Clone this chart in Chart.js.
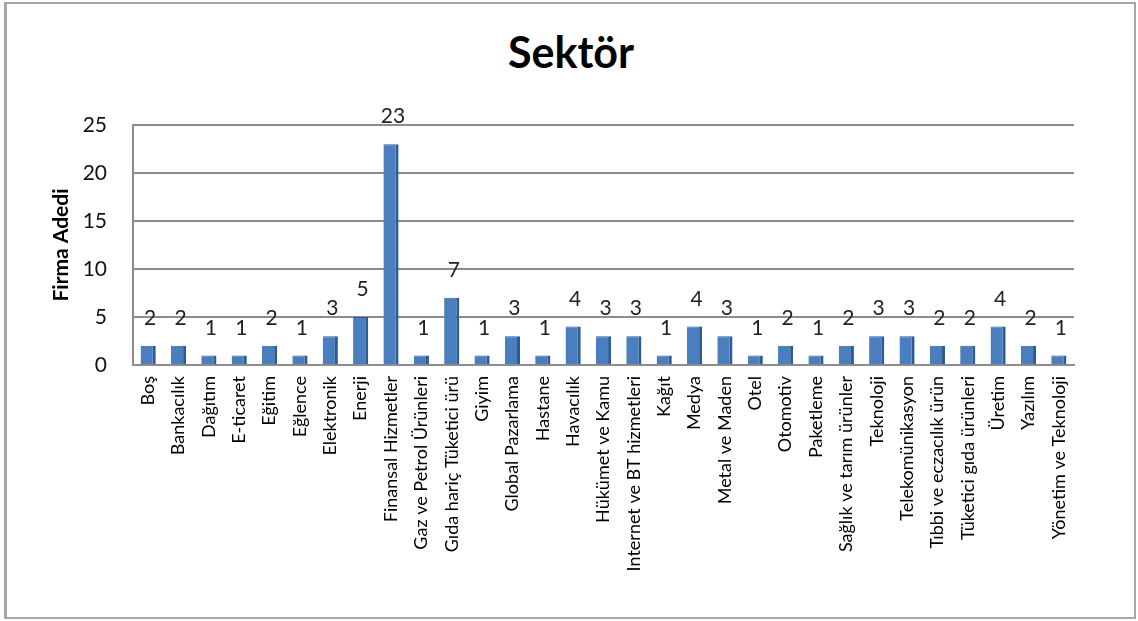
<!DOCTYPE html>
<html>
<head>
<meta charset="utf-8">
<script src="https://cdn.jsdelivr.net/npm/chart.js@4/dist/chart.umd.min.js"></script>
<style>
  body { margin: 0; background: #fff; }
  #frame {
    position: absolute; left: 4px; top: 2px; width: 1127px; height: 613px;
    border: 2px solid #a6a6a6; border-left-width: 3px;
  }
  #title {
    position: absolute; left: 0; top: 26px; width: 1142px; text-align: center;
    font: bold 43px Lato, "Liberation Sans", sans-serif; line-height: 52px; color: #000;
  }
  #myChart { position: absolute; left: 0; top: 0; }
</style>
</head>
<body>
<div id="frame"></div>
<div id="title">Sektör</div>
<canvas id="myChart" width="1138" height="621"></canvas>
<script>
// chart data
var sectors = ['Boş', 'Bankacılık', 'Dağıtım', 'E-ticaret', 'Eğitim', 'Eğlence', 'Elektronik', 'Enerji',
  'Finansal Hizmetler', 'Gaz ve Petrol Ürünleri', 'Gıda hariç Tüketici ürü', 'Giyim', 'Global Pazarlama',
  'Hastane', 'Havacılık', 'Hükümet ve Kamu', 'Internet ve BT hizmetleri', 'Kağıt', 'Medya', 'Metal ve Maden',
  'Otel', 'Otomotiv', 'Paketleme', 'Sağlık ve tarım ürünler', 'Teknoloji', 'Telekomünikasyon',
  'Tıbbi ve eczacılık ürün', 'Tüketici gıda ürünleri', 'Üretim', 'Yazılım', 'Yönetim ve Teknoloji'];
var firmCounts = [2, 2, 1, 1, 2, 1, 3, 5, 23, 1, 7, 1, 3, 1, 4, 3, 3, 1, 4, 3, 1, 2, 1, 2, 3, 3, 2, 2, 4, 2, 1];
var yTicks = [0, 5, 10, 15, 20, 25];

// value labels above bars
const barLabels = {
  id: 'barLabels',
  afterDatasetsDraw(chart) {
    const c = chart.ctx;
    const meta = chart.getDatasetMeta(0);
    c.save();
    c.font = '21px Lato, "Liberation Sans", sans-serif';
    c.fillStyle = '#222';
    c.textAlign = 'center';
    c.textBaseline = 'bottom';
    meta.data.forEach((bar, i) => {
      c.fillText(firmCounts[i], bar.x + 2, bar.y - 17);
    });
    c.restore();
  }
};

const ctx = document.getElementById('myChart');
const myChartBar = new Chart(ctx, {
  type: 'bar',
  data: {
    labels: sectors,
    datasets: [{
      data: firmCounts,
      backgroundColor: '#4a7ebe',
      borderColor: '#2d5b94',
      borderWidth: { top: 1, left: 0, bottom: 0, right: 3 },
      borderSkipped: false,
      barPercentage: 0.5,
      categoryPercentage: 1
    }]
  },
  plugins: [barLabels],
  options: {
    responsive: false,
    animation: false,
    layout: { padding: { left: 49, right: 64, top: 125, bottom: 12 } },
    plugins: {
      legend: { display: false },
      tooltip: { enabled: false },
      title: { display: false }
    },
    scales: {
      x: {
        grid: { display: false },
        border: { color: '#8c8c8c', width: 2 },
        ticks: {
          color: '#000',
          autoSkip: false,
          maxRotation: 90,
          minRotation: 90,
          font: { family: 'Lato, "Liberation Sans", sans-serif', size: 18 }
        },
        afterFit: (scale) => { scale.height = 244; }
      },
      y: {
        min: 0,
        max: 25,
        afterBuildTicks: (scale) => { scale.ticks = yTicks.map(v => ({ value: v })); },
        grid: { color: '#8c8c8c', lineWidth: 2, drawTicks: false },
        border: { color: '#8c8c8c', width: 2 },
        ticks: {
          color: '#111',
          padding: 26,
          font: { family: 'Lato, "Liberation Sans", sans-serif', size: 21 }
        },
        title: {
          display: true,
          text: 'Firma Adedi',
          color: '#000',
          padding: { top: 0, bottom: 0 },
          font: { family: 'Lato, "Liberation Sans", sans-serif', size: 21, weight: 'bold' }
        },
        afterFit: (scale) => { scale.width = 84; }
      }
    }
  }
});
</script>
</body>
</html>
